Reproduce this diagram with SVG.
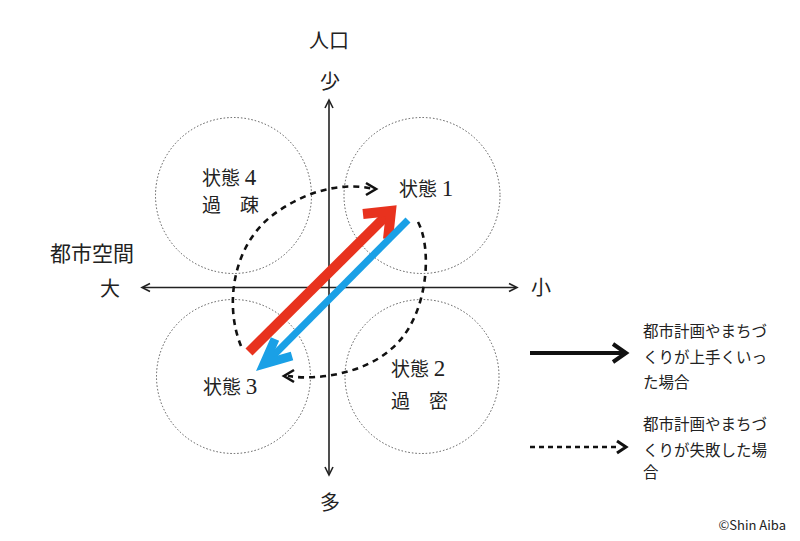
<svg xmlns="http://www.w3.org/2000/svg" width="800" height="541" viewBox="0 0 800 541">
<style>
.c{fill:none;stroke:#555;stroke-width:1;stroke-dasharray:1.5,2}
.ax{fill:none;stroke:#222;stroke-width:1.6}
.t{font-family:"Liberation Serif","Noto Sans CJK JP",serif;fill:#222}
.n{font-size:23px}
.s{font-family:"Noto Sans CJK JP",sans-serif;fill:#222}
.d{fill:none;stroke:#111;stroke-width:2.6;stroke-dasharray:6,5}
.h{fill:none;stroke:#111;stroke-width:2.6;stroke-linejoin:miter}
</style>
<rect width="800" height="541" fill="#fff"/>
<g id="state4"><circle class="c" cx="233.5" cy="195.5" r="78"/><text class="t" x="202" y="185" font-size="19">状態 <tspan class="n">4</tspan></text><text class="t" x="202" y="212" font-size="19">過　疎</text></g>
<g id="state1"><circle class="c" cx="422" cy="195.5" r="78"/><text class="t" x="399" y="196" font-size="19">状態 <tspan class="n">1</tspan></text></g>
<g id="state3"><circle class="c" cx="233.5" cy="376.5" r="77"/><text class="t" x="203" y="394" font-size="19">状態 <tspan class="n">3</tspan></text></g>
<g id="state2"><circle class="c" cx="422" cy="376.5" r="77"/><text class="t" x="391" y="376" font-size="19">状態 <tspan class="n">2</tspan></text><text class="t" x="391" y="408" font-size="19">過　密</text></g>
<g id="axes">
<line class="ax" x1="329" y1="101" x2="329" y2="474"/>
<polyline class="ax" points="325,108 329,100 333,108"/>
<polyline class="ax" points="325,467 329,475 333,467"/>
<line class="ax" x1="143" y1="287.5" x2="516" y2="287.5"/>
<polyline class="ax" points="150,283.5 142,287.5 150,291.5"/>
<polyline class="ax" points="509,283.5 517,287.5 509,291.5"/>
<text class="s" x="329" y="48" font-size="20" text-anchor="middle">人口</text>
<text class="s" x="330" y="89" font-size="20" text-anchor="middle">少</text>
<text class="s" x="330" y="510" font-size="20" text-anchor="middle">多</text>
<text class="s" x="541" y="295" font-size="20" text-anchor="middle">小</text>
<text class="s" x="50" y="261" font-size="21">都市空間</text>
<text class="s" x="110" y="296" font-size="20" text-anchor="middle">大</text>
</g>
<g id="connectors">
<path class="d" d="M 241 346 C 224 305, 232 240, 280 210 C 305 193, 340 181, 374 189"/>
<polyline class="h" points="366,183 376,189 366,195"/>
<path class="d" d="M 418 222 C 433 250, 428 320, 390 350 C 365 372, 320 381, 288 376"/>
<polyline class="h" points="294,370 284,376 294,382"/>
<line x1="249" y1="352" x2="389" y2="213" stroke="#E8321E" stroke-width="10"/>
<polyline points="363,214 391,211 388,239" fill="none" stroke="#E8321E" stroke-width="10" stroke-linejoin="miter"/>
<line x1="408" y1="220" x2="267" y2="362" stroke="#1AA0E6" stroke-width="7"/>
<polyline points="275,339 264,364 292,356" fill="none" stroke="#1AA0E6" stroke-width="9" stroke-linejoin="miter"/>
</g>
<g id="legend">
<line x1="530" y1="353" x2="624" y2="353" stroke="#111" stroke-width="4"/>
<polyline points="613,344 626,353 613,362" fill="none" stroke="#111" stroke-width="4"/>
<line x1="530" y1="447" x2="618" y2="447" stroke="#111" stroke-width="2.6" stroke-dasharray="5,4"/>
<polyline points="617,441 626,447 617,453" fill="none" stroke="#111" stroke-width="3"/>
<text class="t" font-size="15.5"><tspan x="643" y="337">都市計画やまちづ</tspan><tspan x="643" y="363">くりが上手くいっ</tspan><tspan x="643" y="388">た場合</tspan></text>
<text class="t" font-size="15.5"><tspan x="643" y="430">都市計画やまちづ</tspan><tspan x="643" y="456">くりが失敗した場</tspan><tspan x="643" y="478">合</tspan></text>
<text class="s" x="786" y="530" font-size="13" text-anchor="end">©Shin Aiba</text>
</g>
</svg>
